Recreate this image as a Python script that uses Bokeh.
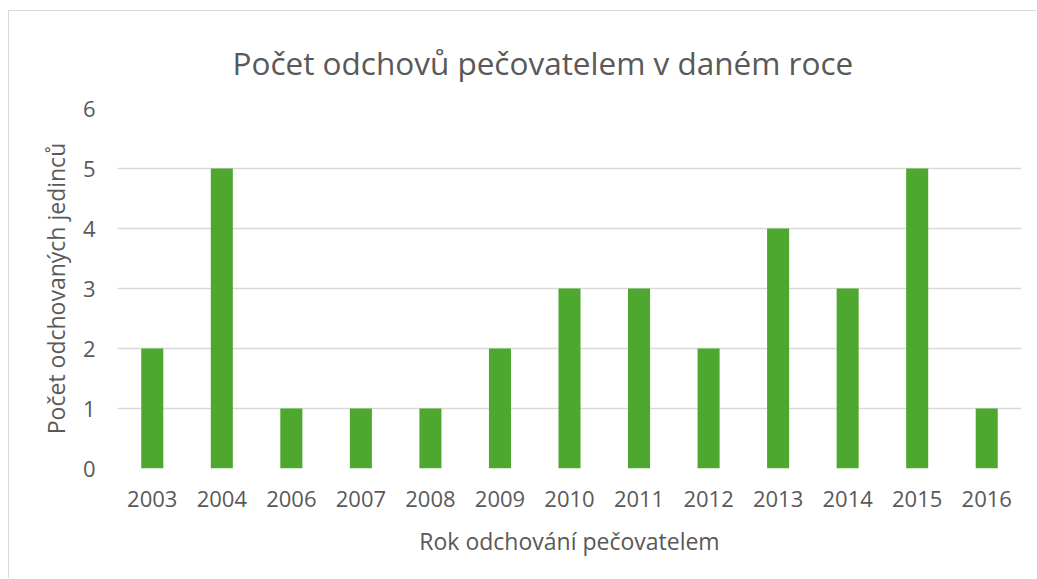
from bokeh.plotting import figure
from bokeh.embed import file_html
from bokeh.resources import INLINE
from bokeh.models import ColumnDataSource, FixedTicker

years = ["2003", "2004", "2006", "2007", "2008", "2009", "2010", "2011", "2012", "2013", "2014", "2015", "2016"]
counts = [2, 5, 1, 1, 1, 2, 3, 3, 2, 4, 3, 5, 1]
y_ticks = [0, 1, 2, 3, 4, 5, 6]

FONT = "Open Sans"
GREY = "#595959"

src = ColumnDataSource(dict(year=years, count=counts))

p = figure(x_range=years, y_range=(0, 6), width=1027, height=567,
           output_backend="svg", toolbar_location=None,
           title="Počet odchovů pečovatelem v daném roce",
           min_border_left=108, min_border_right=16, min_border_top=97, min_border_bottom=111)

p.vbar(x="year", top="count", width=0.317, source=src, fill_color="#4EA72E", line_color=None)

p.title.align = "left"
p.title.text_font = FONT
p.title.text_font_size = "31.5px"
p.title.text_font_style = "normal"
p.title.text_color = GREY
p.title.offset = 115
p.title.standoff = 49

p.outline_line_color = None
p.background_fill_color = "white"
p.border_fill_color = "white"

p.styles = {"margin-left": "8px", "margin-top": "10px", "box-sizing": "content-box",
            "border-left": "1.5px solid #d9d9d9", "border-top": "1.5px solid #d9d9d9",
            "border-right": "none", "border-bottom": "none"}

p.xgrid.grid_line_color = None
p.ygrid.grid_line_color = "#d9d9d9"
p.ygrid.grid_line_width = 1.5
p.yaxis.ticker = FixedTicker(ticks=y_ticks)

for ax in (p.xaxis, p.yaxis):
    ax.axis_line_color = None
    ax.major_tick_line_color = None
    ax.minor_tick_line_color = None
    ax.major_label_text_font = FONT
    ax.major_label_text_font_size = "22px"
    ax.major_label_text_color = GREY
    ax.axis_label_text_font = FONT
    ax.axis_label_text_font_size = "23px"
    ax.axis_label_text_font_style = "normal"
    ax.axis_label_text_color = GREY

p.xaxis.axis_label = "Rok odchování pečovatelem"
p.yaxis.axis_label = "Počet odchovaných jedinců"
p.xaxis.major_label_standoff = 16
p.yaxis.major_label_standoff = 16
p.xaxis.axis_label_standoff = 15
p.yaxis.axis_label_standoff = 8

open("out.html", "w").write(file_html(p, INLINE))
